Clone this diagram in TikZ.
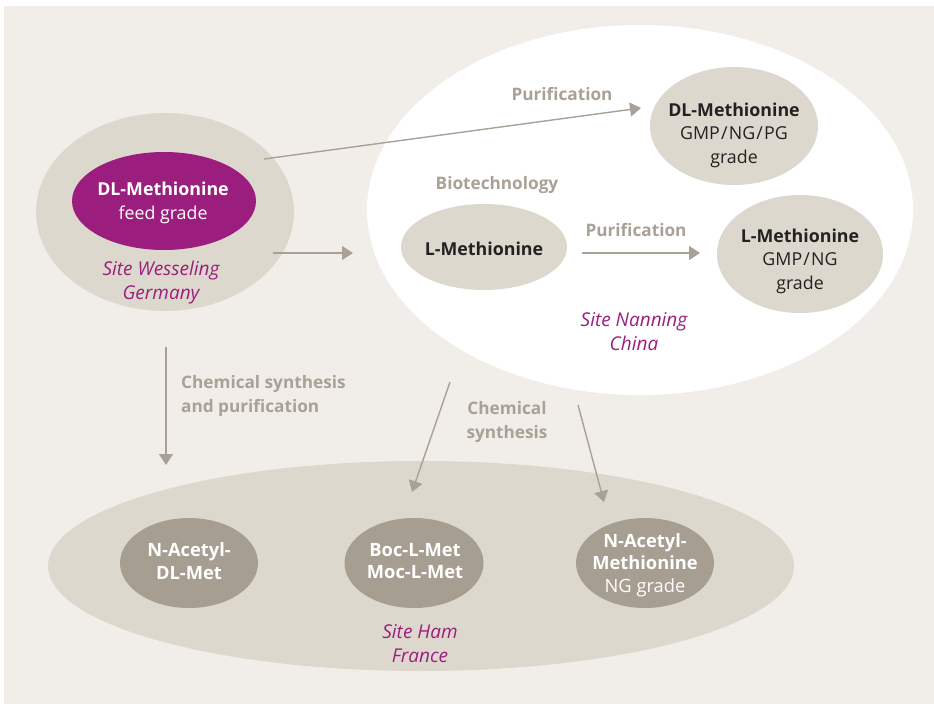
\documentclass[tikz,border=0pt]{standalone}
\usepackage{fontspec}
\setmainfont{Open Sans}
\usetikzlibrary{shapes.geometric,arrows.meta}
\definecolor{bgc}{HTML}{F1EEE9}
\definecolor{beige}{HTML}{DDD8CD}
\definecolor{purp}{HTML}{9B1E7E}
\definecolor{dgrey}{HTML}{A79E92}
\definecolor{lgrey}{HTML}{A9A196}
\definecolor{dtext}{HTML}{222222}
\newcommand{\slsh}{\kern1.2pt/\kern1.2pt}
\tikzset{
  blob/.style={ellipse, inner sep=0pt, draw=none},
  txt/.style={align=center, inner sep=0pt, font=\fontsize{17.8}{23.5}\selectfont},
  lbl/.style={txt, text=lgrey, font=\fontsize{17.2}{24}\selectfont\bfseries},
  site/.style={txt, text=purp, font=\fontsize{19}{24}\selectfont\itshape},
  circ/.style={txt, text=white, font=\fontsize{18.3}{22.5}\selectfont\bfseries},
  conn/.style={draw=lgrey, line width=1.4pt, -{Triangle[length=11pt,width=14pt]}}
}
\begin{document}
\begin{tikzpicture}[x=1pt,y=-1pt]
\useasboundingbox (0,0) rectangle (934,706);
\fill[bgc] (4,6) rectangle (934,704);
% site ellipses
\node[blob, fill=white, minimum width=546pt, minimum height=370pt] (nanning) at (640,210) {};
\node[blob, fill=beige, minimum width=258pt, minimum height=198pt] (wesseling) at (165,212) {};
\node[blob, fill=beige, minimum width=746pt, minimum height=210pt] (ham) at (421,566) {};
% product ellipses
\node[blob, fill=purp, minimum width=184pt, minimum height=98pt] (dlfeed) at (164,201) {};
\node[txt, text=white] (dlfeedt) at (163,203) {\textbf{DL-Methionine}\\feed grade};
\node[site] (wessel) at (161,283) {Site Wesseling\\Germany};

\node[blob, fill=beige, minimum width=168pt, minimum height=118pt] (dlgmp) at (734,126) {};
\node[txt, text=dtext] (dlgmpt) at (734,135) {\textbf{DL-Methionine}\\GMP\slsh NG\slsh PG\\grade};
\node[blob, fill=beige, minimum width=166pt, minimum height=86pt] (lmet) at (484,247) {};
\node[txt, text=dtext] (lmett) at (484,249) {\textbf{L-Methionine}};
\node[blob, fill=beige, minimum width=166pt, minimum height=118pt] (lgmp) at (800,254) {};
\node[txt, text=dtext] (lgmpt) at (800,261) {\textbf{L-Methionine}\\GMP\slsh NG\\grade};
\node[site] (nann) at (634,332) {Site Nanning\\China};

\node[blob, fill=dgrey, minimum width=138pt, minimum height=90pt] (nadl) at (189,563) {};
\node[circ] (nadlt) at (189,561) {N-Acetyl-\\DL-Met};
\node[blob, fill=dgrey, minimum width=139pt, minimum height=90pt] (boc) at (414,563) {};
\node[circ] (boct) at (415,561) {Boc-L-Met\\Moc-L-Met};
\node[blob, fill=dgrey, minimum width=138pt, minimum height=90pt] (nam) at (645,563) {};
\node[circ] (namt) at (645,565) {N-Acetyl-\\Methionine\\\mdseries NG grade};
\node[site] (hamt) at (420,644) {Site Ham\\France};

% labels
\node[lbl] (p1) at (562,94) {Purification};
\node[lbl] (bio) at (497,185) {Biotechnology};
\node[lbl] (p2) at (636,230) {Purification};
\node[lbl, align=left, anchor=west] (csp) at (181,396) {Chemical synthesis\\and purification};
\node[lbl] (cs) at (507,422) {Chemical\\synthesis};

% connector ends
\coordinate (a1s) at (264,159); \coordinate (a1e) at (641,108);
\coordinate (a2s) at (273,253); \coordinate (a2e) at (353,253);
\coordinate (a3s) at (582,253); \coordinate (a3e) at (700,253);
\coordinate (a4s) at (166,347); \coordinate (a4e) at (166,465);
\coordinate (a5s) at (450,382); \coordinate (a5e) at (412,492);
\coordinate (a6s) at (578,405); \coordinate (a6e) at (604,502);
\draw[conn] (a1s) -- (a1e);
\draw[conn] (a2s) -- (a2e);
\draw[conn] (a3s) -- (a3e);
\draw[conn] (a4s) -- (a4e);
\draw[conn] (a5s) -- (a5e);
\draw[conn] (a6s) -- (a6e);
\end{tikzpicture}
\end{document}
